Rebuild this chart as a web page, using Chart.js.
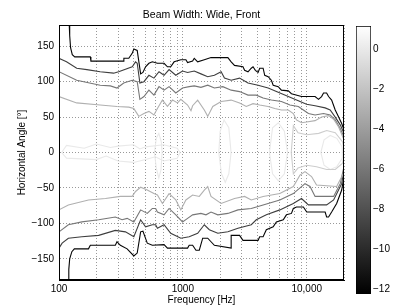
<!DOCTYPE html>
<html>
<head>
<meta charset="utf-8">
<script src="https://cdn.jsdelivr.net/npm/chart.js@4.4.0/dist/chart.umd.min.js"></script>
<style>
  html, body { margin: 0; padding: 0; background: #fff; }
  #wrap { position: relative; width: 396px; height: 305px; }
  #main { position: absolute; left: 0; top: 0; }
  #cbar { position: absolute; left: 344px; top: 0; }
</style>
</head>
<body>
<div id="wrap">
  <canvas id="main" width="396" height="305"></canvas>
  <canvas id="cbar" width="52" height="305"></canvas>
</div>
<script>
// contour lines, each point is [frequency Hz, horizontal angle deg]
const blackUpper = [[121,180],[122,165],[124,148],[128,138],[134,135],[179,135],[181,129],[331,129],[334,133],[366,133],[390,140],[402,146],[428,144],[456,111],[476,113],[500,121],[532,126],[567,128],[623,126],[705,126],[751,121],[798,121],[850,128],[963,131],[1058,131],[1092,127],[1199,129],[1236,133],[1317,128],[1490,131],[1688,134],[2309,134],[2455,128],[2612,123],[3058,121],[3151,116],[3357,114],[3567,119],[3687,121],[3849,116],[4049,113],[4172,119],[4446,119],[4581,109],[4883,107],[5183,102],[5362,95],[5888,93],[6247,88],[7098,87],[7530,83],[9076,79],[11683,79],[12450,75],[13186,79],[13670,84],[14477,84],[15010,79],[15895,74],[16990,60],[18100,50],[19160,41],[20000,32]];
const blackLower = [[119,-180],[120,-165],[122,-150],[127,-140],[133,-136],[173,-136],[179,-131],[285,-131],[294,-126],[305,-129],[313,-131],[355,-136],[402,-146],[428,-142],[456,-112],[476,-111],[516,-128],[567,-131],[705,-130],[751,-135],[850,-135],[1092,-135],[1125,-131],[1199,-131],[1276,-138],[1357,-138],[1446,-121],[1588,-121],[1688,-126],[1797,-131],[2455,-135],[2455,-117],[2870,-117],[3058,-124],[4049,-124],[4172,-119],[4446,-119],[4720,-109],[5362,-105],[5690,-98],[6465,-95],[6858,-88],[7530,-86],[7795,-79],[8267,-77],[9401,-77],[10000,-84],[14085,-84],[14477,-91],[15010,-91],[15895,-84],[17450,-72],[19160,-53],[20000,-34]];
const darkUpper = [[100,133],[106,131],[115,128],[139,119],[168,117],[215,114],[276,112],[303,114],[390,121],[415,128],[428,126],[450,98],[485,100],[532,109],[584,105],[642,114],[705,109],[774,117],[877,109],[994,115],[1092,113],[1236,115],[1400,111],[1588,107],[1797,109],[2037,114],[2167,105],[2455,102],[2870,105],[3357,98],[4049,95],[4883,91],[5888,85],[7098,79],[8560,73],[9965,68],[11683,66],[14085,63],[15464,60],[16990,50],[18650,39],[20000,27]];
const darkLower = [[100,-135],[106,-128],[119,-121],[153,-119],[209,-117],[285,-110],[344,-112],[402,-119],[456,-95],[500,-105],[567,-102],[603,-102],[623,-107],[705,-102],[798,-114],[963,-121],[1125,-119],[1317,-114],[1490,-102],[1636,-109],[1915,-114],[2309,-112],[2785,-107],[3567,-102],[3916,-95],[4720,-88],[6066,-81],[7795,-72],[9076,-65],[10323,-74],[14477,-74],[16490,-67],[19160,-44],[20000,-25]];
const mediumUpper = [[100,114],[139,102],[215,95],[260,94],[294,91],[333,98],[390,102],[428,100],[450,75],[485,79],[532,88],[584,81],[642,93],[705,88],[774,93],[877,84],[994,91],[1125,93],[1236,94],[1400,92],[1588,95],[1797,91],[2102,93],[2455,88],[2870,86],[3357,81],[3916,81],[4446,77],[5183,74],[6247,72],[7314,67],[8560,65],[9400,60],[10323,55],[11683,53],[13670,55],[15464,53],[16990,46],[18650,34],[20000,22]];
const mediumLower = [[100,-112],[119,-102],[153,-98],[209,-95],[285,-91],[323,-95],[355,-93],[402,-98],[456,-81],[516,-86],[567,-79],[603,-79],[623,-84],[705,-88],[774,-79],[877,-88],[994,-98],[1092,-93],[1199,-88],[1400,-86],[1537,-88],[1688,-84],[1915,-88],[2309,-86],[2785,-81],[3567,-79],[4446,-74],[6066,-67],[7795,-58],[9688,-44],[10636,-48],[11683,-62],[16490,-62],[18650,-44],[20000,-20]];
const lightUpper = [[100,79],[139,70],[215,67],[294,65],[366,64],[402,62],[441,51],[485,55],[532,58],[584,53],[623,62],[684,74],[751,65],[825,74],[906,70],[963,75],[1092,67],[1163,59],[1199,66],[1317,74],[1490,60],[1588,51],[1744,65],[2037,72],[2455,74],[2870,70],[3249,65],[3687,69],[4172,67],[4883,65],[5525,62],[6247,60],[7098,60],[7795,55],[8267,46],[9076,42],[9965,43],[11683,45],[13186,50],[15010,52],[16490,47],[18100,36],[20000,18]];
const lightLower = [[100,-81],[119,-74],[173,-67],[237,-65],[313,-62],[390,-62],[415,-55],[456,-49],[516,-53],[584,-58],[623,-60],[684,-72],[774,-58],[877,-67],[963,-81],[1058,-67],[1199,-60],[1357,-62],[1490,-53],[1588,-48],[1688,-62],[2037,-72],[2612,-65],[3151,-62],[3567,-67],[4446,-62],[6066,-58],[7795,-48],[8820,-32],[9688,-27],[10940,-34],[12010,-46],[17450,-48],[19870,-29],[20000,-24]];

// faint loops close to 0 dB
const faintLeft = [[105,0],[115,10],[160,6],[200,12],[260,7],[300,9],[400,11],[450,5],[500,8],[700,11],[900,6],[950,0],[900,-8],[700,-12],[600,-6],[500,-10],[400,-14],[300,-12],[240,-5],[200,-10],[115,-8],[105,0]];
const faintMid1 = [[590,0],[610,20],[640,27],[670,15],[680,0],[665,-25],[640,-36],[610,-22],[590,0]];
const faintMid2 = [[1950,0],[2000,30],[2150,46],[2350,35],[2450,0],[2350,-30],[2200,-42],[2050,-30],[1950,0]];
const faintMid3 = [[5000,0],[5300,35],[5900,42],[6600,30],[7000,0],[6600,-30],[5900,-40],[5300,-30],[5000,0]];
const faintRightOuter = [[7500,0],[7800,38],[8500,28],[10000,25],[12500,27],[14500,31],[17000,28],[19500,15],[20000,5],[20000,-5],[19500,-15],[17000,-24],[14500,-24],[12000,-20],[10000,-18],[8500,-22],[7800,-30],[7500,0]];
const faintRightInner = [[13000,0],[13800,18],[15500,24],[17500,20],[19300,8],[19500,0],[19300,-8],[17500,-20],[15500,-24],[13800,-18],[13000,0]];

const contourLevels = [-12, -9, -6, -3, 0];

const xTickValues = [100,200,300,400,500,600,700,800,900,1000,2000,3000,4000,5000,6000,7000,8000,9000,10000,20000];
const xTickLabels = { 100: '100', 1000: '1000', 10000: '10,000' };
const yTickValues = [-150, -100, -50, 0, 50, 100, 150];
const cbarTickValues = [-12, -10, -8, -6, -4, -2, 0];
const cbarMin = -12.25;
const cbarMax = 1.15;

Chart.defaults.font.family = "'Liberation Sans', Arial, Helvetica, sans-serif";
Chart.defaults.font.size = 10;
Chart.defaults.color = '#000';

function minusSign(v) {
  return v < 0 ? '\u2212' + Math.abs(v) : String(v);
}

// grey colormap, black at the bottom of the colour axis
function grayFor(level) {
  const t = (level - cbarMin) / (cbarMax - cbarMin);
  const g = Math.round(Math.max(0, Math.min(1, t)) * 255);
  return 'rgb(' + g + ',' + g + ',' + g + ')';
}

function contourDataset(points, level) {
  return {
    data: points.map(p => ({ x: p[0], y: p[1] })),
    borderColor: grayFor(level),
    borderWidth: 1.1,
    pointRadius: 0,
    showLine: true,
    fill: false,
    tension: 0
  };
}

const framePlugin = {
  id: 'frame',
  afterDatasetsDraw(chart) {
    const { ctx, chartArea: a } = chart;
    ctx.save();
    ctx.strokeStyle = '#000';
    ctx.lineWidth = 1;
    ctx.strokeRect(a.left + 0.5, a.top + 0.5, a.right - a.left - 1, a.bottom - a.top - 1);
    ctx.restore();
  }
};

const gridStyle = {
  color: '#999',
  lineWidth: 1,
  drawTicks: false,
  borderDash: [1, 2]
};

new Chart(document.getElementById('main'), {
  type: 'scatter',
  data: {
    datasets: [
      contourDataset(faintLeft, contourLevels[4]),
      contourDataset(faintMid1, contourLevels[4]),
      contourDataset(faintMid2, contourLevels[4]),
      contourDataset(faintMid3, contourLevels[4]),
      contourDataset(faintRightOuter, -1.5),
      contourDataset(faintRightInner, contourLevels[4]),
      contourDataset(lightUpper, contourLevels[3]),
      contourDataset(lightLower, contourLevels[3]),
      contourDataset(mediumUpper, contourLevels[2]),
      contourDataset(mediumLower, contourLevels[2]),
      contourDataset(darkUpper, contourLevels[1]),
      contourDataset(darkLower, contourLevels[1]),
      contourDataset(blackUpper, contourLevels[0]),
      contourDataset(blackLower, contourLevels[0])
    ]
  },
  options: {
    responsive: false,
    animation: false,
    layout: { padding: { left: 0, right: 52, top: 0, bottom: 0 } },
    plugins: {
      legend: { display: false },
      tooltip: { enabled: false },
      title: {
        display: true,
        fullSize: false,
        text: 'Beam Width: Wide, Front',
        font: { size: 10.5, weight: 'normal', lineHeight: 1.2 },
        padding: { top: 9, bottom: 3.4 },
        color: '#000'
      }
    },
    scales: {
      x: {
        type: 'logarithmic',
        min: 100,
        max: 20000,
        afterBuildTicks: scale => { scale.ticks = xTickValues.map(v => ({ value: v })); },
        afterFit: scale => { scale.height = 25; },
        ticks: {
          autoSkip: false,
          maxRotation: 0,
          padding: 3,
          callback: value => xTickLabels[value] || ''
        },
        grid: gridStyle,
        border: { color: '#000', width: 1, dash: [1, 2] },
        title: {
          display: true,
          text: 'Frequency [Hz]',
          font: { size: 10, lineHeight: 1 },
          padding: { top: 0, bottom: 0 }
        }
      },
      y: {
        type: 'linear',
        min: -180,
        max: 180,
        afterBuildTicks: scale => { scale.ticks = yTickValues.map(v => ({ value: v })); },
        afterFit: scale => { scale.width = 59; },
        ticks: {
          padding: 5,
          callback: value => minusSign(value)
        },
        grid: gridStyle,
        border: { color: '#000', width: 1, dash: [1, 2] },
        title: {
          display: true,
          text: 'Horizontal Angle [°]',
          font: { size: 10, lineHeight: 1.2 },
          padding: { top: 16, bottom: 0 }
        }
      }
    }
  },
  plugins: [framePlugin]
});

// colour bar
function barGradient(chart) {
  const a = chart.chartArea;
  if (!a) return '#888';
  const g = chart.ctx.createLinearGradient(0, a.bottom, 0, a.top);
  g.addColorStop(0, '#000');
  g.addColorStop(1, '#fff');
  return g;
}

new Chart(document.getElementById('cbar'), {
  type: 'bar',
  data: {
    labels: ['dB'],
    datasets: [{
      data: [[cbarMin, cbarMax]],
      backgroundColor: ctx => barGradient(ctx.chart),
      borderColor: '#000',
      borderWidth: 1,
      borderSkipped: false,
      barPercentage: 1,
      categoryPercentage: 1
    }]
  },
  options: {
    responsive: false,
    animation: false,
    layout: { padding: { left: 12, right: 0, top: 26, bottom: 11 } },
    plugins: {
      legend: { display: false },
      tooltip: { enabled: false }
    },
    scales: {
      x: { display: false },
      y: {
        position: 'right',
        min: cbarMin,
        max: cbarMax,
        afterBuildTicks: scale => { scale.ticks = cbarTickValues.map(v => ({ value: v })); },
        afterFit: scale => { scale.width = 25; },
        grid: { display: false, drawTicks: false },
        border: { display: false },
        ticks: {
          padding: 2,
          callback: value => minusSign(value)
        }
      }
    }
  }
});
</script>
</body>
</html>
